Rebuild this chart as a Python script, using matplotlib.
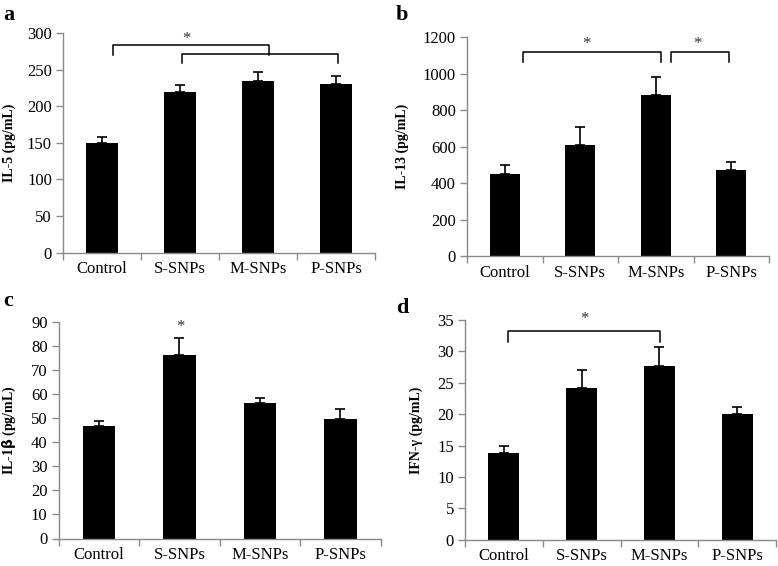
import numpy as np
import matplotlib
matplotlib.use('Agg')
import matplotlib.pyplot as plt

plt.rcParams['font.family'] = ['Liberation Serif', 'DejaVu Serif']

groups = ['Control', 'S-SNPs', 'M-SNPs', 'P-SNPs']

# mean and upper error (mean + sd)
il5 = [150.3, 219.2, 235.1, 230.2]
il5_top = [157.6, 229.6, 247.0, 242.0]
il13 = [452, 609, 884, 475]
il13_top = [503, 707, 981, 514]
il1b = [46.7, 75.9, 56.2, 49.5]
il1b_top = [48.8, 83.3, 58.3, 53.6]
ifng = [13.9, 24.2, 27.6, 20.1]
ifng_top = [14.9, 27.0, 30.75, 21.1]

# significance brackets: (x_left, x_right, y_top, y_leg)
brk_a = [(0.145, 2.145, 284, 270), (1.02, 3.02, 271, 260)]
brk_b = [(0.246, 2.066, 1121, 1066), (2.198, 2.966, 1121, 1066)]
brk_d = [(0.055, 2.01, 33.3, 31.5)]
# stars: (x, y)
star_a = [(1.08, 292)]
star_b = [(1.085, 1163), (2.556, 1163)]
star_c = [(1.006, 87.9)]
star_d = [(1.04, 35.2)]

W, H = 778, 566
# panel: letter, y label, values, tops, ymax, step, brackets, stars,
#        axes box in pixels (left, right, top, bottom), letter pos, ylabel x
panels = [
    ('a', 'IL-5 (pg/mL)', il5, il5_top, 300, 50, brk_a, star_a,
     (63, 375, 33.3, 252.5), (3, 20), 9),
    ('b', 'IL-13 (pg/mL)', il13, il13_top, 1200, 200, brk_b, star_b,
     (467, 769, 37.3, 256.3), (396, 20), 402),
    ('c', r'IL-1$\mathbf{\beta}$ (pg/mL)', il1b, il1b_top, 90, 10, [], star_c,
     (58.7, 380.7, 321.5, 538.5), (3, 306), 9),
    ('d', 'IFN-γ (pg/mL)', ifng, ifng_top, 35, 5, brk_d, star_d,
     (465, 776, 320, 539.8), (396, 313), 416),
]

axcol = '#8a8a8a'
fig = plt.figure(figsize=(W / 100, H / 100), dpi=100)

for lab, ylab, vals, tops, ymax, ystep, brks, stars, box, lpos, ylx in panels:
    l, r, t, b = box
    ax = fig.add_axes([l / W, 1 - b / H, (r - l) / W, (b - t) / H])
    x = np.arange(len(groups))
    vals = np.array(vals, dtype=float)
    err = np.array(tops) - vals
    ax.bar(x, vals, width=0.4, color='black', zorder=2)
    ax.errorbar(x, vals, yerr=[np.zeros_like(err), err], fmt='none',
                ecolor='black', elinewidth=1.2, capsize=3.5, capthick=1.2, zorder=3)
    ax.set_xlim(-0.5, len(groups) - 0.5)
    ax.set_ylim(0, ymax)
    ax.set_yticks(np.arange(0, ymax + ystep / 2, ystep))
    ax.set_xticks(x)
    ax.set_xticklabels(groups, fontsize=12)
    ax.set_xticks(np.arange(-0.5, len(groups)), minor=True)
    ax.tick_params(axis='x', which='major', length=0, pad=6)
    ax.tick_params(axis='x', which='minor', length=5, color=axcol, width=1)
    ax.tick_params(axis='y', length=5, color=axcol, width=1, labelsize=12, pad=3)
    for s in ['top', 'right']:
        ax.spines[s].set_visible(False)
    for s in ['left', 'bottom']:
        ax.spines[s].set_color(axcol)
        ax.spines[s].set_linewidth(1)
    fig.text(ylx / W, 1 - (t + b) / 2 / H, ylab, rotation=90, fontsize=10,
             fontweight='bold', ha='center', va='center')
    for xl, xr, yt, yl in brks:
        ax.plot([xl, xl, xr, xr], [yl, yt, yt, yl], color='black', lw=1.1,
                clip_on=False, zorder=4)
    for sx, sy in stars:
        ax.text(sx, sy, '*', ha='center', va='center', fontsize=12,
                color='#333333', clip_on=False)
    fig.text(lpos[0] / W, 1 - lpos[1] / H, lab, fontsize=16, fontweight='bold',
             ha='left', va='baseline')

fig.savefig('out.png', dpi=100)
